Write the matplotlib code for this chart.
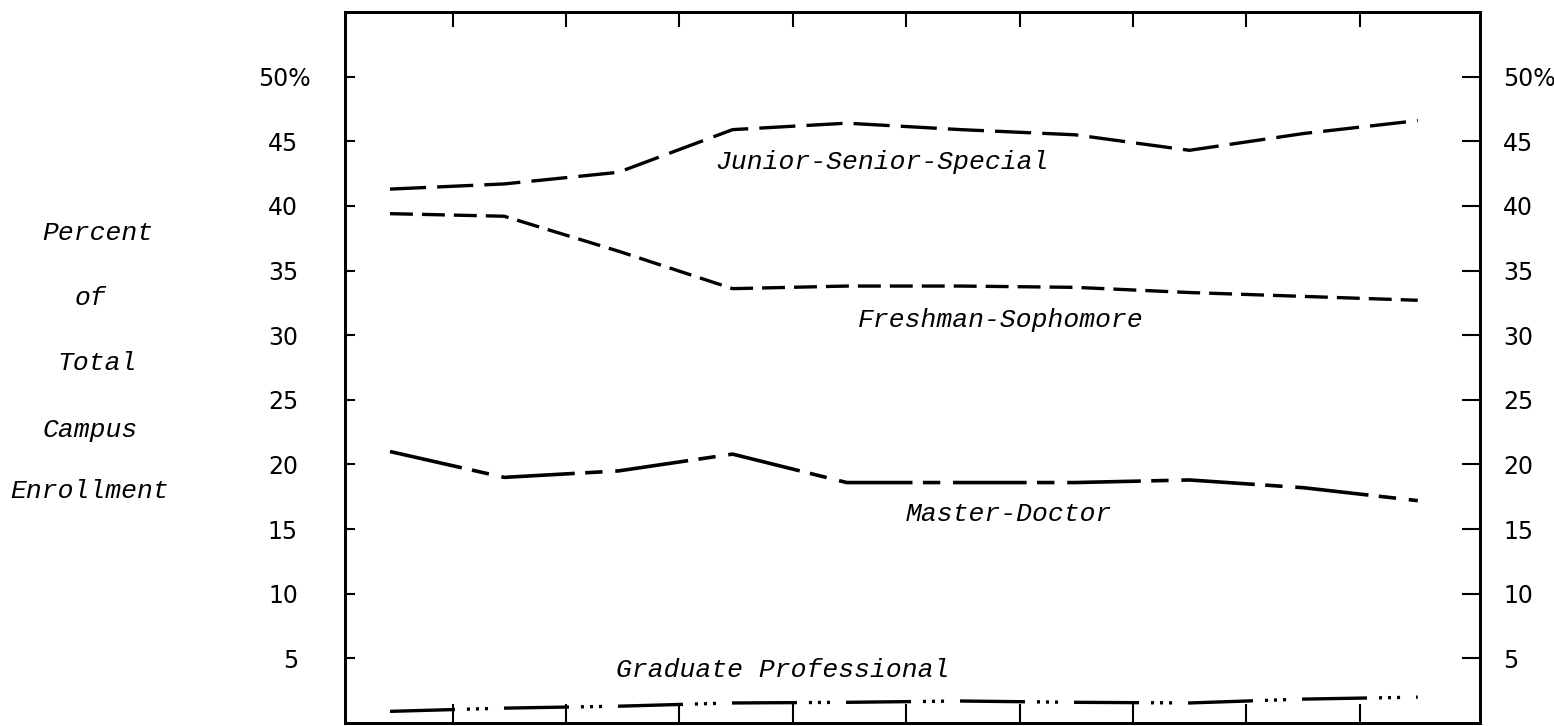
import matplotlib
matplotlib.use("Agg")
import matplotlib.pyplot as plt
import numpy as np

plt.rcParams['lines.scale_dashes'] = False
plt.rcParams['font.family'] = ['DejaVu Sans']

# ---- data ----
periods = np.arange(10)
junior_senior_special = [41.3, 41.7, 42.6, 45.9, 46.4, 45.9, 45.5, 44.3, 45.6, 46.6]
freshman_sophomore = [39.4, 39.2, 36.5, 33.6, 33.8, 33.8, 33.7, 33.3, 33.0, 32.7]
master_doctor = [21.0, 19.0, 19.5, 20.8, 18.6, 18.6, 18.6, 18.8, 18.2, 17.2]
graduate_professional = [0.9, 1.15, 1.3, 1.55, 1.6, 1.7, 1.6, 1.55, 1.85, 2.0]

ytick_values = [5, 10, 15, 20, 25, 30, 35, 40, 45, 50]
ytick_labels_left = ['5', '10', '15', '20', '25', '30', '35', '40', '45', '']
top_label_left = '50%'
ytick_labels_right = ['5', '10', '15', '20', '25', '30', '35', '40', '45', '50%']
side_label_lines = ['Percent', 'of', 'Total', 'Campus', 'Enrollment']

W, H = 1554, 726
fig = plt.figure(figsize=(W / 100, H / 100), dpi=100)
ax = fig.add_axes([345 / W, 3 / H, (1480 - 345) / W, (723 - 12) / H])
xlim = (-0.394, 9.545)
ax.set_xlim(*xlim)
ax.set_ylim(0, 55)

lw = 2.4
ax.plot(periods, junior_senior_special, color='black', lw=lw, dashes=(26, 8), dash_capstyle='butt')
ax.plot(periods, freshman_sophomore, color='black', lw=lw, dashes=(16.5, 6.5), dash_capstyle='butt')
ax.plot(periods, master_doctor, color='black', lw=lw + 0.2, dashes=(53, 7.5, 12.5, 9.2), dash_capstyle='butt')
ax.plot(periods, graduate_professional, color='black', lw=lw,
        dashes=(46.8, 8.6, 2.2, 4.3, 2.2, 4.3, 2.2, 11.5), dash_capstyle='butt')

mono = dict(family='Liberation Mono', style='italic', fontsize=19, color='black')
ax.text(2.85, 43.4, 'Junior-Senior-Special', ha='left', va='center', **mono)
ax.text(4.10, 31.2, 'Freshman-Sophomore', ha='left', va='center', **mono)
ax.text(4.52, 16.2, 'Master-Doctor', ha='left', va='center', **mono)
ax.text(1.98, 4.1, 'Graduate Professional', ha='left', va='center', **mono)

# side label lines (pixel positions of the reference)
side_pos = [(98, 233), (90, 298), (97, 363), (90, 430), (90, 491)]
for txt, (px, py) in zip(side_label_lines, side_pos):
    fig.text(px / W, 1 - py / H, txt, ha='center', va='center', **mono)

xticks = np.linspace(0.55, 8.49, 9)
tick_font = 17

for s in ax.spines.values():
    s.set_linewidth(2.0)

ax.set_xticks(xticks)
ax.set_xticklabels([])
ax.tick_params(axis='x', direction='in', length=14, width=1.5, bottom=True, top=False)
ax.set_yticks(ytick_values)
ax.set_yticklabels(ytick_labels_left, fontsize=tick_font)
ax.tick_params(axis='y', direction='in', length=7, width=1.5, pad=33.8, left=True, right=False)
ax.annotate(top_label_left, xy=(0, 50), xycoords=ax.get_yaxis_transform(), xytext=(-25, 0),
            textcoords='offset points', ha='right', va='center_baseline', fontsize=tick_font)

axr = ax.twinx()
axr.set_ylim(0, 55)
axr.set_yticks(ytick_values)
axr.set_yticklabels(ytick_labels_right, fontsize=tick_font)
axr.tick_params(axis='y', direction='in', length=13, width=1.5, pad=16.6)
for s in axr.spines.values():
    s.set_linewidth(2.0)

axt = ax.twiny()
axt.set_xlim(*xlim)
axt.set_xticks(xticks)
axt.set_xticklabels([])
axt.tick_params(axis='x', direction='in', length=11, width=1.5)
for s in axt.spines.values():
    s.set_linewidth(2.0)

fig.savefig('out.png', dpi=100)
